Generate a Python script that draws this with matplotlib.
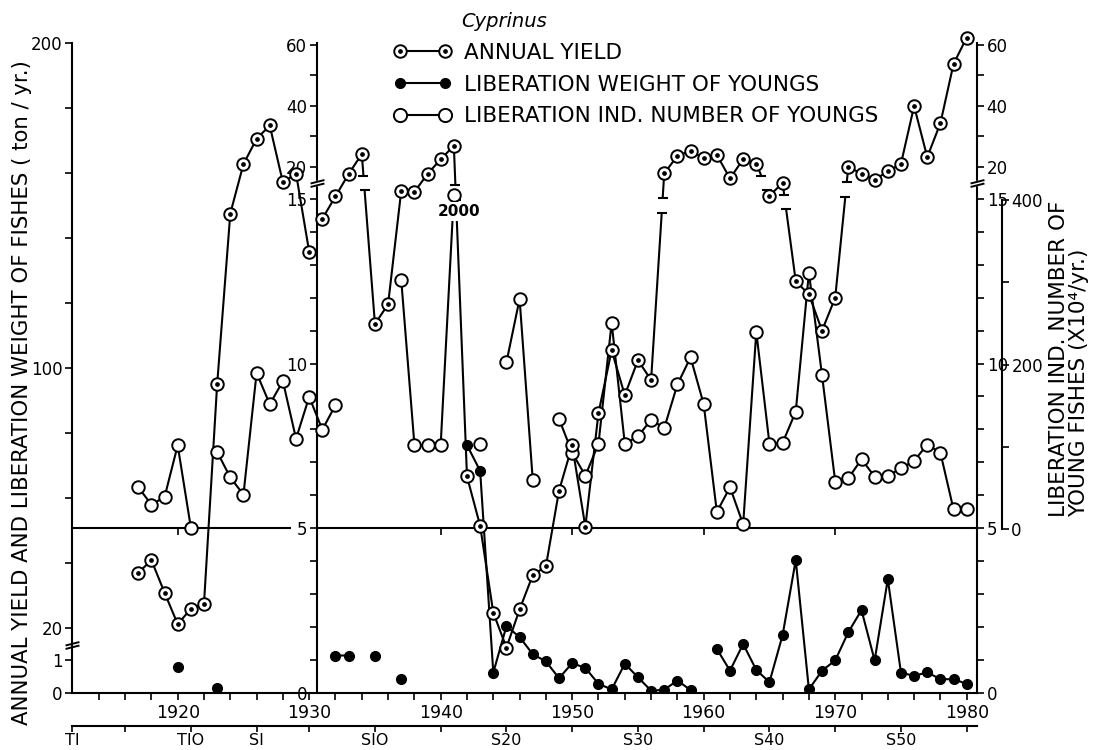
import numpy as np
import matplotlib
matplotlib.use('Agg')
import matplotlib.pyplot as plt
from matplotlib.path import Path
from matplotlib.lines import Line2D
from matplotlib.legend_handler import HandlerTuple

# ---- data ----
# annual yield before 1930, left axis (ton / yr.)
years_pre = np.arange(1917, 1931)
yield_pre = [36.9, 40.8, 30.8, 21.1, 25.8, 27.4, 94.9, 147.5, 162.7, 170.5,
             174.6, 157.1, 159.8, 135.7]
# liberation weight before 1930, left axis
weight_pre_years = [1920, 1923]
weight_pre = [0.80, 0.13]

# annual yield from 1931, inner / right axis
years_post = np.arange(1931, 1981)
yield_post = [14.4, 15.4, 18.9, 24.2, 11.2, 11.8, 16.3, 16.1, 18.9, 22.5,
              26.9, 6.57, 5.07, 2.43, 1.37, 2.53, 3.57, 3.84, 6.14, 7.51,
              5.04, 8.5, 10.4, 9.04, 10.1, 9.5, 19.0, 23.6, 25.3, 22.8,
              23.9, 18.2, 22.5, 21.1, 15.5, 17.5, 12.5, 12.1, 11.0, 12.0,
              20.1, 18.9, 18.0, 19.3, 21.0, 39.9, 23.2, 34.3, 53.7, 62.3]

# liberation weight from 1932, inner axis
nan = np.nan
weight_years = np.arange(1932, 1981)
weight_post = [1.13, 1.13, nan, 1.10, nan, 0.41, nan, nan, nan, nan,
               7.52, 6.74, 0.61, 2.02, 1.69, 1.17, 0.95, 0.44, 0.90, 0.75,
               0.27, 0.10, 0.88, 0.47, 0.06, 0.09, 0.37, 0.08, nan, 1.33,
               0.67, 1.48, 0.69, 0.32, 1.75, 4.03, 0.10, 0.67, 0.98, 1.84,
               2.51, 0.98, 3.45, 0.61, 0.51, 0.62, 0.41, 0.41, 0.27]

# liberation individual number (x10^4 / yr.), right axis
number_years = np.arange(1917, 1981)
number = [51, 30, 39, 102, 2, nan, 94, 63, 42, 190,
          152, 180, 110, 161, 121, 151, nan, nan, nan, nan,
          303, 103, 102, 103, 2000, nan, 104, nan, 203, 280,
          60, nan, 134, 93, 65, 104, 251, 104, 113, 133,
          123, 176, 209, 152, 21, 51, 6, 240, 104, 105,
          143, 312, 187, 58, 62, 85, 64, 65, 74, 83,
          103, 93, 24, 24]

# yield segments drawn with a scale break
break_after = [1934, 1941, 1956, 1964, 1966, 1970]

year_ticks = np.arange(1914, 1981, 2)
era_ticks = [1912, 1916, 1921, 1926, 1930, 1935, 1940, 1945, 1950, 1955,
             1960, 1965, 1970, 1975, 1980]
era_labels = ['TI', '', 'TIO', 'SI', '', 'SIO', '', 'S20', '', 'S30', '',
              'S40', '', 'S50', '']

# ---- broken scales: every axis is mapped onto one common height ----
INNER_V = [0, 15, 20, 60]
INNER_U = [0, 15.10, 16.08, 19.82]
TON_V = [0, 1, 20, 200]
TON_U = [0, 1.0, 1.988, 19.88]
NUM_V = [0, 400, 2000]
NUM_U = [5.0, 15.06, 15.22]
U_TOP = 19.87


def piecewise(xp, fp):
    xp = np.asarray(xp, float)
    fp = np.asarray(fp, float)
    s0 = (fp[1] - fp[0]) / (xp[1] - xp[0])
    s1 = (fp[-1] - fp[-2]) / (xp[-1] - xp[-2])

    def f(v):
        v = np.asarray(v, float)
        out = np.interp(v, xp, fp)
        out = np.where(v < xp[0], fp[0] + (v - xp[0]) * s0, out)
        out = np.where(v > xp[-1], fp[-1] + (v - xp[-1]) * s1, out)
        return np.where(np.isnan(v), np.nan, out)
    return f


fwd_in, inv_in = piecewise(INNER_V, INNER_U), piecewise(INNER_U, INNER_V)
fwd_ton, inv_ton = piecewise(TON_V, TON_U), piecewise(TON_U, TON_V)
fwd_num, inv_num = piecewise(NUM_V, NUM_U), piecewise(NUM_U, NUM_V)

INNER_X = 1930.6
X0, X1 = 1912.0, 1980.78

fig = plt.figure(figsize=(10.95, 7.5), dpi=100)
ax = fig.add_axes([0.0662, 0.0764, 0.8260, 0.8663])
ax.set_yscale('function', functions=(fwd_in, inv_in))
ax.set_xlim(X0, X1)
ax.set_ylim(inv_in(0), inv_in(U_TOP))

ax_l = ax.twinx()
ax_l.set_yscale('function', functions=(fwd_ton, inv_ton))
ax_l.set_ylim(inv_ton(0), inv_ton(U_TOP))
ax_r = ax.twinx()
ax_r.set_yscale('function', functions=(fwd_num, inv_num))
ax_r.set_ylim(inv_num(0), inv_num(U_TOP))

# main (inner) axis at 1930 and on the right
ax.spines['top'].set_visible(False)
ax.spines['left'].set_position(('data', INNER_X))
for s in ['left', 'right', 'bottom']:
    ax.spines[s].set_linewidth(1.5)
ax.set_yticks([0, 5, 10, 15, 20, 40, 60])
ax.set_yticks([1, 2, 3, 4, 6, 7, 8, 9, 11, 12, 13, 14, 30, 50], minor=True)
ax.set_xticks(year_ticks, labels=[str(y) if y % 10 == 0 else '' for y in year_ticks])
ax.tick_params(axis='x', direction='out', length=5, width=1.2, labelsize=12.5, pad=3)

# left axis (ton / yr.)
for s in ['top', 'right', 'bottom']:
    ax_l.spines[s].set_visible(False)
ax_l.spines['left'].set_visible(True)
ax_l.spines['left'].set_position(('axes', 0))
ax_l.spines['left'].set_linewidth(1.5)
ax_l.yaxis.tick_left()
ax_l.set_yticks([0, 1, 20, 100, 200])
ax_l.set_yticks([40, 60, 80, 120, 140, 160, 180], minor=True)
ax_l.tick_params(axis='y', which='both', direction='out', length=5, width=1.2,
                 labelsize=12, pad=2)

# right axis for number of youngs
for s in ['top', 'left', 'bottom']:
    ax_r.spines[s].set_visible(False)
ax_r.spines['right'].set_position(('axes', 1.0273))
ax_r.spines['right'].set_bounds(0, 400)
ax_r.spines['right'].set_linewidth(1.5)
ax_r.set_yticks([0, 200, 400])
ax_r.set_yticks([100, 300], minor=True)
ax_r.tick_params(axis='y', which='both', direction='out', length=5, width=1.2,
                 labelsize=12, pad=2)

# ticks on both sides of the main axis (after twinx)
ax.yaxis.set_ticks_position('both')
ax.tick_params(axis='y', which='both', direction='out', length=5, width=1.2,
               labelsize=12, labelleft=True, labelright=True, pad=2)

# era axis below
sec = ax.secondary_xaxis(-0.0513)
sec.set_xticks(era_ticks, labels=era_labels)
sec.tick_params(direction='out', length=4.5, width=1.2, labelsize=11.5, pad=0.5)
sec.spines['bottom'].set_linewidth(1.5)

# horizontal line at 5 with decade ticks
ax.hlines(5, X0, 1928.6, color='k', lw=1.5, zorder=2)
ax.hlines(5, INNER_X, X1, color='k', lw=1.5, zorder=2)
ax.plot([1920, 1940, 1950, 1960, 1970], [5] * 5, ls='none', marker=3, ms=5,
        mew=1.2, color='k', zorder=2)

tr_l, tr_r = ax_l.transData, ax_r.transData
LW = 1.5
circ = dict(ls='none', marker='o', ms=9, mfc='w', mec='k', mew=1.4, clip_on=False)
dot = dict(ls='none', marker='o', ms=2.4, color='k', clip_on=False)

# lines
ax.plot(number_years, number, color='k', lw=LW, transform=tr_r, zorder=3)
ax.plot(years_pre, yield_pre, color='k', lw=LW, transform=tr_l, zorder=3)
ax.plot(years_post, yield_post, color='k', lw=LW, zorder=3, clip_on=False)
ax.plot(weight_years, weight_post, color='k', lw=LW, zorder=3)

# breaks on the yield line
BREAK_LEVEL, GAP_U = 17.5, 0.22
for y0 in break_after:
    v0 = yield_post[y0 - 1931]
    v1 = yield_post[y0 + 1 - 1931]
    u0, u1 = fwd_in(v0), fwd_in(v1)
    du = u1 - u0
    dt = GAP_U / abs(du)
    tc = np.clip((fwd_in(BREAK_LEVEL) - u0) / du, dt + 0.12, 1 - dt - 0.12)
    ts = np.array([tc - dt, tc + dt])
    xs = y0 + ts
    vs = inv_in(u0 + ts * du)
    ax.plot(xs, vs, color='w', lw=4, solid_capstyle='butt', zorder=3.5)
    ax.plot(xs, vs, ls='none', marker='_', ms=7, mew=1.5, color='k', zorder=3.6)

# markers
ax.plot(number_years, number, transform=tr_r, zorder=4, **circ)
ax.plot(years_pre, yield_pre, transform=tr_l, zorder=5, **circ)
ax.plot(years_pre, yield_pre, transform=tr_l, zorder=5.1, **dot)
ax.plot(years_post, yield_post, zorder=5, **circ)
ax.plot(years_post, yield_post, zorder=5.1, **dot)
ax.plot(weight_years, weight_post, ls='none', marker='o', ms=7, color='k', zorder=6)
ax.plot(weight_pre_years, weight_pre, ls='none', marker='o', ms=7, color='k',
        transform=tr_l, zorder=6)

ax.annotate('2000', xy=(1941, 2000), xycoords=tr_r, xytext=(3.5, -12),
            textcoords='offset points', ha='center', va='center', fontsize=11,
            fontweight='bold', bbox=dict(fc='w', ec='none', pad=1.5), zorder=7)

# axis break marks
brk = Path([(-1, -0.5), (1, 0.0), (-1, 0.0), (1, 0.5)],
           [Path.MOVETO, Path.LINETO, Path.MOVETO, Path.LINETO])
for trans, xpos, val in [(ax_l.get_yaxis_transform(), 0, 10),
                         (ax.transData, INNER_X, BREAK_LEVEL),
                         (ax.get_yaxis_transform(), 1, BREAK_LEVEL)]:
    ax.plot([xpos], [val], transform=trans, ls='none', marker='s', ms=3.5,
            mfc='w', mec='w', clip_on=False, zorder=8)
    ax.plot([xpos], [val], transform=trans, ls='none', marker=brk, ms=10,
            mec='k', mew=1.4, clip_on=False, zorder=8.1)

# legend
h_yield = (Line2D([], [], color='k', lw=LW, marker='o', ms=9, mfc='w', mec='k', mew=1.4),
           Line2D([], [], ls='none', marker='o', ms=2.4, color='k'))
h_weight = Line2D([], [], color='k', lw=LW, marker='o', ms=7)
h_num = Line2D([], [], color='k', lw=LW, marker='o', ms=9.5, mfc='w', mec='k', mew=1.4)
fig.legend([h_yield, h_weight, h_num],
           ['ANNUAL YIELD', 'LIBERATION WEIGHT OF YOUNGS',
            'LIBERATION IND. NUMBER OF YOUNGS'],
           handler_map={tuple: HandlerTuple(ndivide=1, pad=0)},
           loc='upper left', bbox_to_anchor=(0.3594, 0.943), frameon=False,
           numpoints=2, handlelength=2.7, handletextpad=0.55, labelspacing=0.55,
           borderpad=0, borderaxespad=0, fontsize=15.5)
fig.text(504 / 1095, 1 - 21.7 / 750, 'Cyprinus', style='italic', fontsize=14,
         ha='center', va='center')

fig.text(22 / 1095, 0.477, 'ANNUAL YIELD AND LIBERATION WEIGHT OF FISHES ( ton / yr.)',
         rotation=90, fontsize=15.3, ha='center', va='center')
fig.text(1069 / 1095, (750 - 517) / 750,
         'LIBERATION IND. NUMBER OF\nYOUNG FISHES (X10\u2074/yr.)',
         rotation=90, fontsize=15.5, ha='center', va='bottom',
         multialignment='left', linespacing=1.0)

fig.savefig('out.png', dpi=100)
